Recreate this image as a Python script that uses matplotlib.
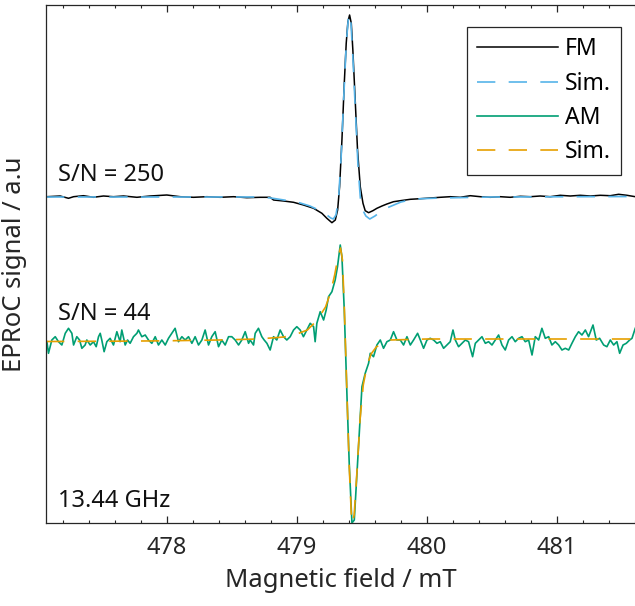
import numpy as np
import matplotlib
matplotlib.use("Agg")
import matplotlib.pyplot as plt
from matplotlib.ticker import MultipleLocator

plt.rcParams['font.family'] = ['Noto Sans', 'DejaVu Sans']

# FM detected spectrum (field in mT, signal in a.u.)
fm_field = [477.077, 477.179, 477.243, 477.282, 477.358, 477.435, 477.512, 477.589,
            477.666, 477.769, 477.871, 477.999, 478.102, 478.205, 478.307, 478.410,
            478.512, 478.615, 478.718, 478.794, 478.820, 478.897, 478.974, 479.050,
            479.128, 479.192, 479.230, 479.269, 479.295, 479.313, 479.328, 479.346,
            479.364, 479.379, 479.392, 479.405, 479.418, 479.430, 479.448, 479.466,
            479.487, 479.508, 479.525, 479.551, 479.584, 479.615, 479.654, 479.692,
            479.743, 479.795, 479.872, 479.949, 480.025, 480.102, 480.179, 480.256,
            480.333, 480.410, 480.487, 480.564, 480.640, 480.718, 480.795, 480.871,
            480.948, 481.025, 481.102, 481.179, 481.256, 481.333, 481.410, 481.474,
            481.538, 481.602]
fm_signal = [0.003, 0.010, -0.013, 0.003, 0.013, -0.003, 0.010, 0.003,
             0.010, -0.003, 0.010, 0.020, 0.003, -0.003, 0.003, -0.003,
             0.003, -0.007, -0.003, -0.003, -0.030, -0.040, -0.053, -0.080,
             -0.113, -0.163, -0.213, -0.257, -0.230, -0.130, 0.103, 0.570,
             1.137, 1.537, 1.753, 1.820, 1.737, 1.470, 0.970, 0.470,
             0.103, -0.063, -0.137, -0.157, -0.137, -0.113, -0.090, -0.070,
             -0.047, -0.037, -0.023, -0.017, -0.010, -0.003, 0.003, -0.003,
             0.013, 0.003, -0.003, 0.003, -0.003, 0.007, 0.003, 0.010,
             0.003, 0.017, 0.010, 0.017, 0.010, 0.017, 0.013, 0.027,
             0.017, 0.003]

# simulation of FM spectrum
fm_sim_field = [477.07, 478.0, 478.7, 478.8, 478.9, 479.0, 479.1, 479.2, 479.26,
                479.28, 479.30, 479.32, 479.34, 479.36, 479.38, 479.395, 479.405,
                479.415, 479.43, 479.45, 479.47, 479.49, 479.51, 479.53, 479.56,
                479.60, 479.65, 479.70, 479.80, 479.90, 480.10, 480.50, 481.60]
fm_sim_signal = [0.0, 0.0, 0.0, -0.01, -0.03, -0.05, -0.09, -0.15, -0.21,
                 -0.22, -0.18, -0.02, 0.40, 1.00, 1.55, 1.78, 1.83,
                 1.75, 1.40, 0.85, 0.30, -0.05, -0.14, -0.19, -0.22,
                 -0.19, -0.14, -0.105, -0.05, -0.02, -0.01, 0.0, 0.005]

# AM detected spectrum
am_field = [477.077, 477.089, 477.115, 477.141, 477.166, 477.192, 477.218, 477.243,
            477.269, 477.282, 477.307, 477.328, 477.346, 477.371, 477.384, 477.410,
            477.435, 477.456, 477.474, 477.487, 477.499, 477.517, 477.538, 477.563,
            477.589, 477.615, 477.640, 477.653, 477.679, 477.697, 477.717, 477.743,
            477.769, 477.781, 477.807, 477.833, 477.858, 477.884, 477.910, 477.935,
            477.961, 477.987, 478.012, 478.038, 478.063, 478.089, 478.115, 478.140,
            478.166, 478.192, 478.217, 478.243, 478.269, 478.294, 478.320, 478.345,
            478.371, 478.397, 478.422, 478.448, 478.474, 478.499, 478.525, 478.551,
            478.576, 478.602, 478.628, 478.640, 478.666, 478.679, 478.704, 478.730,
            478.748, 478.769, 478.794, 478.820, 478.845, 478.871, 478.897, 478.922,
            478.948, 478.974, 478.999, 479.025, 479.050, 479.076, 479.102, 479.128,
            479.140, 479.153, 479.179, 479.205, 479.225, 479.243, 479.269, 479.294,
            479.312, 479.333, 479.346, 479.364, 479.385, 479.402, 479.423, 479.441,
            479.466, 479.487, 479.500, 479.525, 479.551, 479.564, 479.589, 479.615,
            479.641, 479.666, 479.692, 479.718, 479.743, 479.769, 479.795, 479.820,
            479.846, 479.872, 479.897, 479.928, 479.949, 479.974, 480.000, 480.025,
            480.051, 480.077, 480.102, 480.128, 480.154, 480.179, 480.200, 480.218,
            480.243, 480.269, 480.295, 480.320, 480.351, 480.372, 480.397, 480.423,
            480.449, 480.474, 480.500, 480.525, 480.551, 480.577, 480.602, 480.628,
            480.654, 480.679, 480.705, 480.731, 480.756, 480.782, 480.808, 480.833,
            480.859, 480.884, 480.910, 480.936, 480.961, 480.987, 481.013, 481.038,
            481.064, 481.090, 481.115, 481.141, 481.166, 481.192, 481.218, 481.243,
            481.277, 481.302, 481.328, 481.359, 481.384, 481.410, 481.436, 481.461,
            481.482, 481.508, 481.533, 481.559, 481.577, 481.602]
am_signal = [-0.017, -0.133, 0.000, 0.033, -0.017, -0.050, 0.067, 0.117,
             0.067, -0.050, 0.033, 0.000, -0.083, -0.050, 0.000, -0.050,
             -0.017, -0.067, 0.033, 0.067, 0.000, -0.117, -0.017, 0.017,
             -0.050, 0.083, -0.017, 0.100, -0.050, 0.000, -0.033, 0.033,
             0.067, 0.100, 0.033, 0.050, 0.000, -0.033, 0.033, -0.050,
             0.000, -0.050, 0.017, 0.067, 0.117, -0.017, 0.033, 0.000,
             0.033, -0.033, 0.033, -0.050, 0.000, 0.100, -0.050, 0.033,
             0.083, -0.067, 0.000, -0.050, 0.033, 0.033, 0.000, -0.050,
             0.000, 0.083, -0.033, 0.000, -0.050, 0.067, 0.117, 0.033,
             0.000, -0.033, -0.100, 0.033, 0.000, 0.100, 0.033, 0.000,
             0.033, 0.100, 0.133, 0.100, 0.033, 0.100, 0.167, 0.133,
             -0.017, 0.167, 0.283, 0.200, 0.300, 0.433, 0.483, 0.600,
             0.733, 0.950, 0.833, 0.300, -0.567, -1.230, -1.830, -1.800,
             -1.230, -0.767, -0.467, -0.333, -0.233, -0.133, -0.167, -0.050,
             0.000, -0.083, -0.017, 0.000, 0.083, 0.000, 0.000, -0.050,
             0.033, -0.050, 0.000, 0.067, 0.000, -0.083, 0.000, 0.017,
             0.000, -0.033, -0.017, -0.083, -0.050, -0.017, 0.100, 0.000,
             -0.067, -0.033, 0.000, -0.017, -0.167, -0.033, 0.000, 0.033,
             -0.033, -0.017, -0.050, 0.000, 0.050, -0.050, -0.100, 0.000,
             0.033, -0.017, 0.017, 0.033, -0.017, 0.000, -0.150, 0.033,
             0.000, 0.117, 0.017, 0.033, -0.050, -0.017, -0.050, -0.100,
             -0.083, -0.100, -0.033, 0.033, 0.083, 0.050, 0.100, 0.033,
             0.150, 0.000, 0.017, -0.050, -0.067, 0.000, -0.050, -0.017,
             -0.133, -0.050, -0.033, 0.000, 0.017, 0.117]

# simulation of AM spectrum
am_sim_field = [477.07, 477.60, 478.00, 478.40, 478.70, 478.90, 479.00, 479.08,
                479.15, 479.22, 479.26, 479.29, 479.315, 479.335, 479.35, 479.365,
                479.385, 479.40, 479.42, 479.425, 479.44, 479.465, 479.485, 479.51,
                479.54, 479.57, 479.61, 479.66, 479.72, 480.00, 481.60]
am_sim_signal = [-0.015, -0.012, -0.008, 0.0, 0.01, 0.03, 0.06, 0.10,
                 0.19, 0.33, 0.48, 0.65, 0.82, 0.92, 0.80, 0.30,
                 -0.55, -1.20, -1.80, -1.83, -1.75, -1.25, -0.80, -0.45,
                 -0.25, -0.14, -0.07, -0.03, 0.0, 0.01, 0.01]

fm_offset = 1.43
labels = ['FM', 'Sim.', 'AM', 'Sim.']
snr_labels = ['S/N = 250', 'S/N = 44']
freq_label = '13.44 GHz'

fig = plt.figure(figsize=(6.35, 6.06), dpi=100)
ax = fig.add_axes([46 / 635, 83 / 606, 589 / 635, 518 / 606])

dash = (11, 8)
ax.plot(fm_field, np.array(fm_signal) + fm_offset, color='black', lw=1.1, label=labels[0])
ax.plot(fm_sim_field, np.array(fm_sim_signal) + fm_offset, color='#56B4E9', lw=1.2,
        dashes=dash, label=labels[1])
ax.plot(am_field, am_signal, color='#009E73', lw=1.2, label=labels[2])
ax.plot(am_sim_field, am_sim_signal, color='#E69F00', lw=1.2, dashes=dash, label=labels[3])

ax.set_xlim(477.07, 481.6)
ax.set_ylim(-1.83, 3.35)

ax.xaxis.set_major_locator(MultipleLocator(1))
ax.xaxis.set_minor_locator(MultipleLocator(0.2))
ax.tick_params(axis='x', which='both', direction='in', top=True, bottom=True,
               labelsize=17, colors='#262626', pad=9)
ax.tick_params(axis='x', which='major', length=5, width=0.9)
ax.tick_params(axis='x', which='minor', length=2.5, width=0.8)
ax.set_yticks([])
for s in ['top', 'left', 'bottom']:
    ax.spines[s].set_color('#262626')
    ax.spines[s].set_linewidth(0.9)
ax.spines['right'].set_visible(False)

ax.set_xlabel('Magnetic field / mT', fontsize=18.5, color='#262626', labelpad=6)
ax.set_ylabel('EPRoC signal / a.u', fontsize=18.5, color='#262626')
ax.yaxis.set_label_coords(-0.032, 0.5)

# annotations (baseline positions in axes fraction)
ax.text(0.02, 0.66, snr_labels[0], transform=ax.transAxes, fontsize=17,
        va='baseline', color='#111111')
ax.text(0.02, 0.392, snr_labels[1], transform=ax.transAxes, fontsize=17,
        va='baseline', color='#111111')
ax.text(0.02, 0.031, freq_label, transform=ax.transAxes, fontsize=17,
        va='baseline', color='#111111')

leg = ax.legend(loc='upper right', bbox_to_anchor=(0.976, 0.9575), borderaxespad=0,
                fontsize=16.5, fancybox=False, framealpha=1, edgecolor='#262626',
                handlelength=3.5, handletextpad=0.3, labelspacing=0.45, borderpad=0.45)
leg.get_frame().set_linewidth(0.9)

fig.savefig('out.png', dpi=100)
